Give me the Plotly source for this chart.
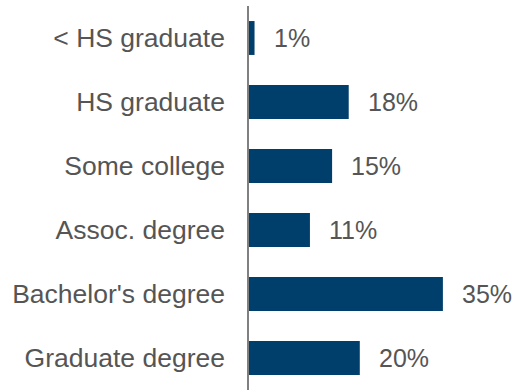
import plotly.graph_objects as go

categories = ["< HS graduate", "HS graduate", "Some college", "Assoc. degree",
              "Bachelor's degree", "Graduate degree"]
shares = [1, 18, 15, 11, 35, 20]
labels = [f"{v}%" for v in shares]

fig = go.Figure()
fig.add_trace(go.Bar(
    x=shares, y=categories, orientation="h",
    marker=dict(color="#003f6b", line=dict(width=0)),
    hoverinfo="skip",
))

# value labels to the right of each bar
for v, c, t in zip(shares, categories, labels):
    fig.add_annotation(x=v, y=c, text=t, showarrow=False,
                       xanchor="left", xshift=17,
                       font=dict(family="Liberation Sans, Arial", size=25, color="#555555"))

fig.update_layout(
    width=515, height=390,
    margin=dict(l=249, r=0, t=6, b=0),
    paper_bgcolor="white", plot_bgcolor="white",
    bargap=0.47, showlegend=False,
    font=dict(family="Liberation Sans, Arial", color="#555555"),
)
fig.update_xaxes(range=[0, 266 / 5.54], visible=False)
fig.update_yaxes(range=[5.5, -0.5], showline=True, linecolor="#808080", linewidth=1.5,
                 showgrid=False, ticks="", ticklabelstandoff=17,
                 tickfont=dict(size=26.5, color="#555555"))

# drop the default 8px page margin so the figure fills the window
fig.write_html("out.html", config={"displayModeBar": False},
               post_script="document.body.style.margin='0';")
